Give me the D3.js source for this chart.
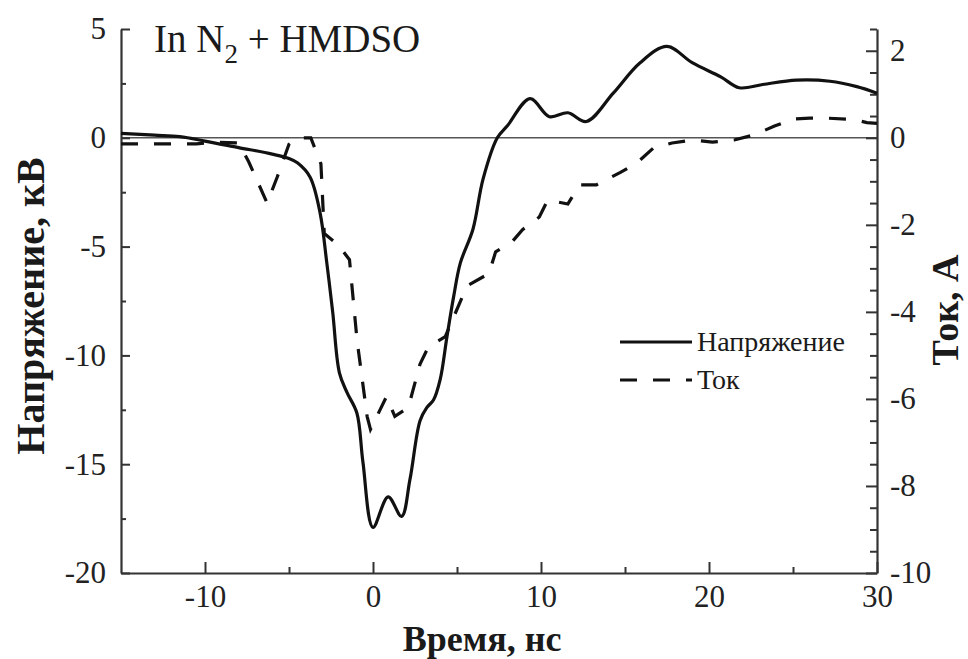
<!DOCTYPE html>
<html>
<head>
<meta charset="utf-8">
<script src="https://cdn.jsdelivr.net/npm/d3@7"></script>
<style>
  body { margin: 0; background: #fff; }
  svg text { font-family: "Liberation Serif", "Times New Roman", serif; fill: #1a1a1a; }
</style>
</head>
<body>
<div id="chart"></div>
<script>
// время, нс / напряжение, кВ
let voltT = [-15, -13, -11.5, -10, -8, -6, -5, -4.5, -3.75, -3.15, -2.75, -2.4, -2.0, -1.55, -0.96, -0.6, 0, 0.9, 1.7, 2.2, 2.8, 3.2, 3.6, 4.0, 4.4, 4.8, 5.2, 5.95, 6.55, 7.4, 8.0, 9.35, 10.5, 11.6, 12.7, 14.3, 15.9, 17.5, 19.0, 20.7, 21.8, 23.2, 25.2, 27.2, 28.8, 30]
let voltV = [0.2, 0.12, 0.05, -0.15, -0.45, -0.75, -0.95, -1.15, -1.8, -3.45, -5.75, -8.0, -10.8, -11.7, -12.65, -14.9, -17.9, -16.5, -17.4, -15.7, -13.0, -12.4, -12.05, -11.1, -9.15, -7.3, -5.75, -4.2, -1.9, 0, 0.55, 1.8, 0.97, 1.15, 0.75, 2.05, 3.45, 4.2, 3.45, 2.8, 2.3, 2.45, 2.65, 2.6, 2.35, 2.05]

// время, нс / ток, А
let curT = [-15, -10.5, -9.5, -8, -7.4, -6.3, -5.7, -5.0, -4.5, -3.7, -3.1, -2.9, -2.1, -1.4, -0.95, -0.35, -0.15, 0.8, 1.3, 2.1, 2.8, 3.3, 4.3, 5.6, 6.9, 7.3, 8.3, 8.9, 9.9, 10.4, 11.6, 12.3, 13.3, 14.7, 15.7, 16.7, 17.8, 19.0, 20.2, 21.5, 22.7, 23.9, 25.0, 26.0, 27.1, 28.6, 29.4, 30]
let curI = [-0.14, -0.14, -0.1, -0.12, -0.55, -1.5, -0.9, -0.15, 0, 0, -0.6, -2.2, -2.45, -2.8, -4.65, -6.4, -6.7, -5.95, -6.4, -6.2, -5.2, -4.8, -4.57, -3.4, -3.12, -2.62, -2.38, -2.11, -1.82, -1.43, -1.52, -1.08, -1.08, -0.8, -0.58, -0.23, -0.12, -0.05, -0.1, -0.05, 0.07, 0.27, 0.43, 0.45, 0.45, 0.42, 0.35, 0.33]

let xTicks = [-10, 0, 10, 20, 30]
let xMinor = [-5, 5, 15, 25]
let vTicks = [5, 0, -5, -10, -15, -20]
let vMinor = [2.5, -2.5, -7.5, -12.5, -17.5]
let iTicks = [2, 0, -2, -4, -6, -8, -10]
let iMinor = d3.range(-10, 2.51, 0.5).filter(d => Math.abs(d % 2) > 0.01)

let width = 968, height = 659
let svg = d3.select("#chart").append("svg")
    .attr("width", width)
    .attr("height", height)

let x = d3.scaleLinear().domain([-15, 30]).range([121, 877])
let yV = d3.scaleLinear().domain([-20, 5]).range([573, 29])
let yI = d3.scaleLinear().domain([-10, 2.5]).range([573, 29])

let axisColor = "#333"

// нулевая линия
svg.append("line")
    .attr("x1", x(-15)).attr("x2", x(30))
    .attr("y1", yV(0)).attr("y2", yV(0))
    .style("stroke", "#555")
    .style("stroke-width", 1.6)

function styleAxis(g, size){
    g.select(".domain").style("stroke", axisColor).style("stroke-width", 2.2)
    g.selectAll(".tick line").style("stroke", axisColor).style("stroke-width", 2)
    g.selectAll(".tick text").style("font-size", size + "px").style("fill", "#222")
}

// нижняя ось
let gx = svg.append("g").attr("transform", "translate(0," + yV(-20) + ")")
gx.call(d3.axisBottom(x).tickValues(xTicks).tickSize(-11).tickSizeOuter(0).tickPadding(12).tickFormat(d3.format("d")))
styleAxis(gx, 31)
gx.selectAll(".tick text").text(d => d < 0 ? "-" + Math.abs(d) : d)
let gxm = svg.append("g").attr("transform", "translate(0," + yV(-20) + ")")
gxm.call(d3.axisBottom(x).tickValues(xMinor).tickSize(-6).tickFormat(""))
gxm.select(".domain").remove()
gxm.selectAll(".tick line").style("stroke", axisColor).style("stroke-width", 2)

// левая ось
let gy = svg.append("g").attr("transform", "translate(" + x(-15) + ",0)")
gy.call(d3.axisLeft(yV).tickValues(vTicks).tickSize(-9).tickSizeOuter(0).tickPadding(15))
styleAxis(gy, 31)
gy.selectAll(".tick text").text(d => d < 0 ? "-" + Math.abs(d) : d)
let gym = svg.append("g").attr("transform", "translate(" + x(-15) + ",0)")
gym.call(d3.axisLeft(yV).tickValues(vMinor).tickSize(-5).tickFormat(""))
gym.select(".domain").remove()
gym.selectAll(".tick line").style("stroke", axisColor).style("stroke-width", 2)

// правая ось
let gi = svg.append("g").attr("transform", "translate(" + x(30) + ",0)")
gi.call(d3.axisRight(yI).tickValues(iTicks).tickSize(-11).tickSizeOuter(0).tickPadding(13))
styleAxis(gi, 31)
gi.selectAll(".tick text").text(d => d < 0 ? "-" + Math.abs(d) : d)
let gim = svg.append("g").attr("transform", "translate(" + x(30) + ",0)")
gim.call(d3.axisRight(yI).tickValues(iMinor).tickSize(-7).tickFormat(""))
gim.select(".domain").remove()
gim.selectAll(".tick line").style("stroke", axisColor).style("stroke-width", 2)

// кривые
let voltLine = d3.line()
    .x((d, i) => x(voltT[i]))
    .y(d => yV(d))
    .curve(d3.curveCatmullRom.alpha(0.5))
let curLine = d3.line()
    .x((d, i) => x(curT[i]))
    .y(d => yI(d))

svg.append("path")
    .attr("d", curLine(curI))
    .style("fill", "none")
    .style("stroke", "#111")
    .style("stroke-width", 3.2)
    .style("stroke-dasharray", "17,16")

svg.append("path")
    .attr("d", voltLine(voltV))
    .style("fill", "none")
    .style("stroke", "#111")
    .style("stroke-width", 3.2)
    .style("stroke-linejoin", "round")

// подписи осей
svg.append("text")
    .attr("x", 482).attr("y", 651)
    .attr("text-anchor", "middle")
    .style("font-size", "36px").style("font-weight", "bold")
    .text("Время, нс")
svg.append("text")
    .attr("transform", "translate(44,306) rotate(-90)")
    .attr("text-anchor", "middle")
    .style("font-size", "40px").style("font-weight", "bold")
    .text("Напряжение, кВ")
svg.append("text")
    .attr("transform", "translate(958,310) rotate(-90)")
    .attr("text-anchor", "middle")
    .style("font-size", "38px").style("font-weight", "bold")
    .text("Ток, А")

// заголовок
let title = svg.append("text")
    .attr("x", 154).attr("y", 52)
    .style("font-size", "39px")
title.append("tspan").text("In N")
title.append("tspan").attr("dy", 11).style("font-size", "27px").text("2")
title.append("tspan").attr("dy", -11).text(" + HMDSO")

// легенда
let legend = svg.append("g")
let items = [{name: "Напряжение", dash: null}, {name: "Ток", dash: "17,16"}]
items.forEach((it, i) => {
    let yy = 342 + i * 38
    legend.append("line")
        .attr("x1", 620).attr("x2", 692)
        .attr("y1", yy).attr("y2", yy)
        .style("stroke", "#111")
        .style("stroke-width", 3.2)
        .style("stroke-dasharray", it.dash)
    legend.append("text")
        .attr("x", 697).attr("y", yy + 9)
        .style("font-size", "28px")
        .text(it.name)
})
</script>
</body>
</html>
